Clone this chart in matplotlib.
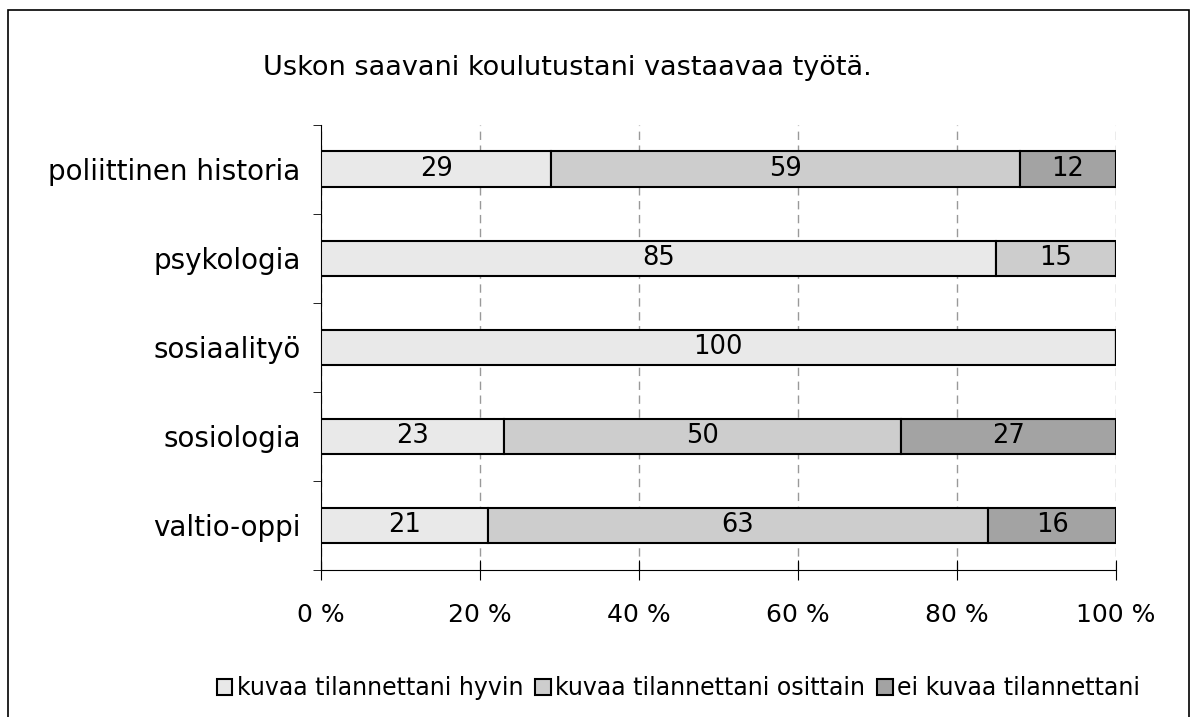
import numpy as np
import matplotlib.pyplot as plt
from matplotlib.patches import Rectangle

categories = ["poliittinen historia", "psykologia", "sosiaalityö", "sosiologia", "valtio-oppi"]
hyvin = [29, 85, 100, 23, 21]
osittain = [59, 15, 0, 50, 63]
ei = [12, 0, 0, 27, 16]
series_names = ["kuvaa tilannettani hyvin", "kuvaa tilannettani osittain", "ei kuvaa tilannettani"]
colors = ["#e9e9e9", "#cdcdcd", "#a3a3a3"]

plt.rcParams['font.family'] = ['DejaVu Sans']

fig = plt.figure(figsize=(11.97, 7.17), dpi=100)
ax = fig.add_axes([0.268, 0.205, 0.664, 0.621])

# frame round the whole chart
fig.patches.append(Rectangle((0.007, -0.05), 0.986, 1.036, transform=fig.transFigure,
                             fill=False, edgecolor="black", linewidth=1.2))

y = np.arange(len(categories))
left = np.zeros(len(categories))
for vals, name, c in zip([hyvin, osittain, ei], series_names, colors):
    vals = np.array(vals, dtype=float)
    bars = ax.barh(y, vals, left=left, height=0.4, color=c, edgecolor="black",
                   linewidth=1.5, label=name, zorder=3)
    for b, v in zip(bars, vals):
        if v > 0:
            ax.text(b.get_x() + b.get_width() / 2, b.get_y() + b.get_height() / 2,
                    f"{v:.0f}", ha="center", va="center", fontsize=18.5, zorder=4)
    left += vals

ax.set_xlim(0, 100)
ax.set_ylim(len(categories) - 0.5, -0.5)
ax.set_xticks(np.arange(0, 101, 20))
ax.set_xticklabels([f"{t} %" for t in range(0, 101, 20)], fontsize=18)
ax.set_yticks(y)
ax.set_yticklabels(categories, fontsize=20)
ax.set_yticks(np.arange(-0.5, len(categories)), minor=True)
ax.tick_params(axis="y", which="major", length=0, pad=14.5)
ax.tick_params(axis="y", which="minor", length=6, direction="out")
ax.tick_params(axis="x", length=14, direction="inout", pad=17)
ax.xaxis.grid(True, linestyle=(0, (6, 4)), color="#999999", linewidth=1, zorder=0)
for s in ["top", "right"]:
    ax.spines[s].set_visible(False)

fig.text(0.474, 0.905, "Uskon saavani koulutustani vastaavaa työtä.", ha="center",
         va="center", fontsize=19.5)

fig.legend(loc="center", bbox_to_anchor=(0.567, 0.04), ncol=3, frameon=False, fontsize=17,
           handlelength=0.65, handleheight=0.65, handletextpad=0.2, columnspacing=0.5)

fig.savefig("out.png", dpi=100)
